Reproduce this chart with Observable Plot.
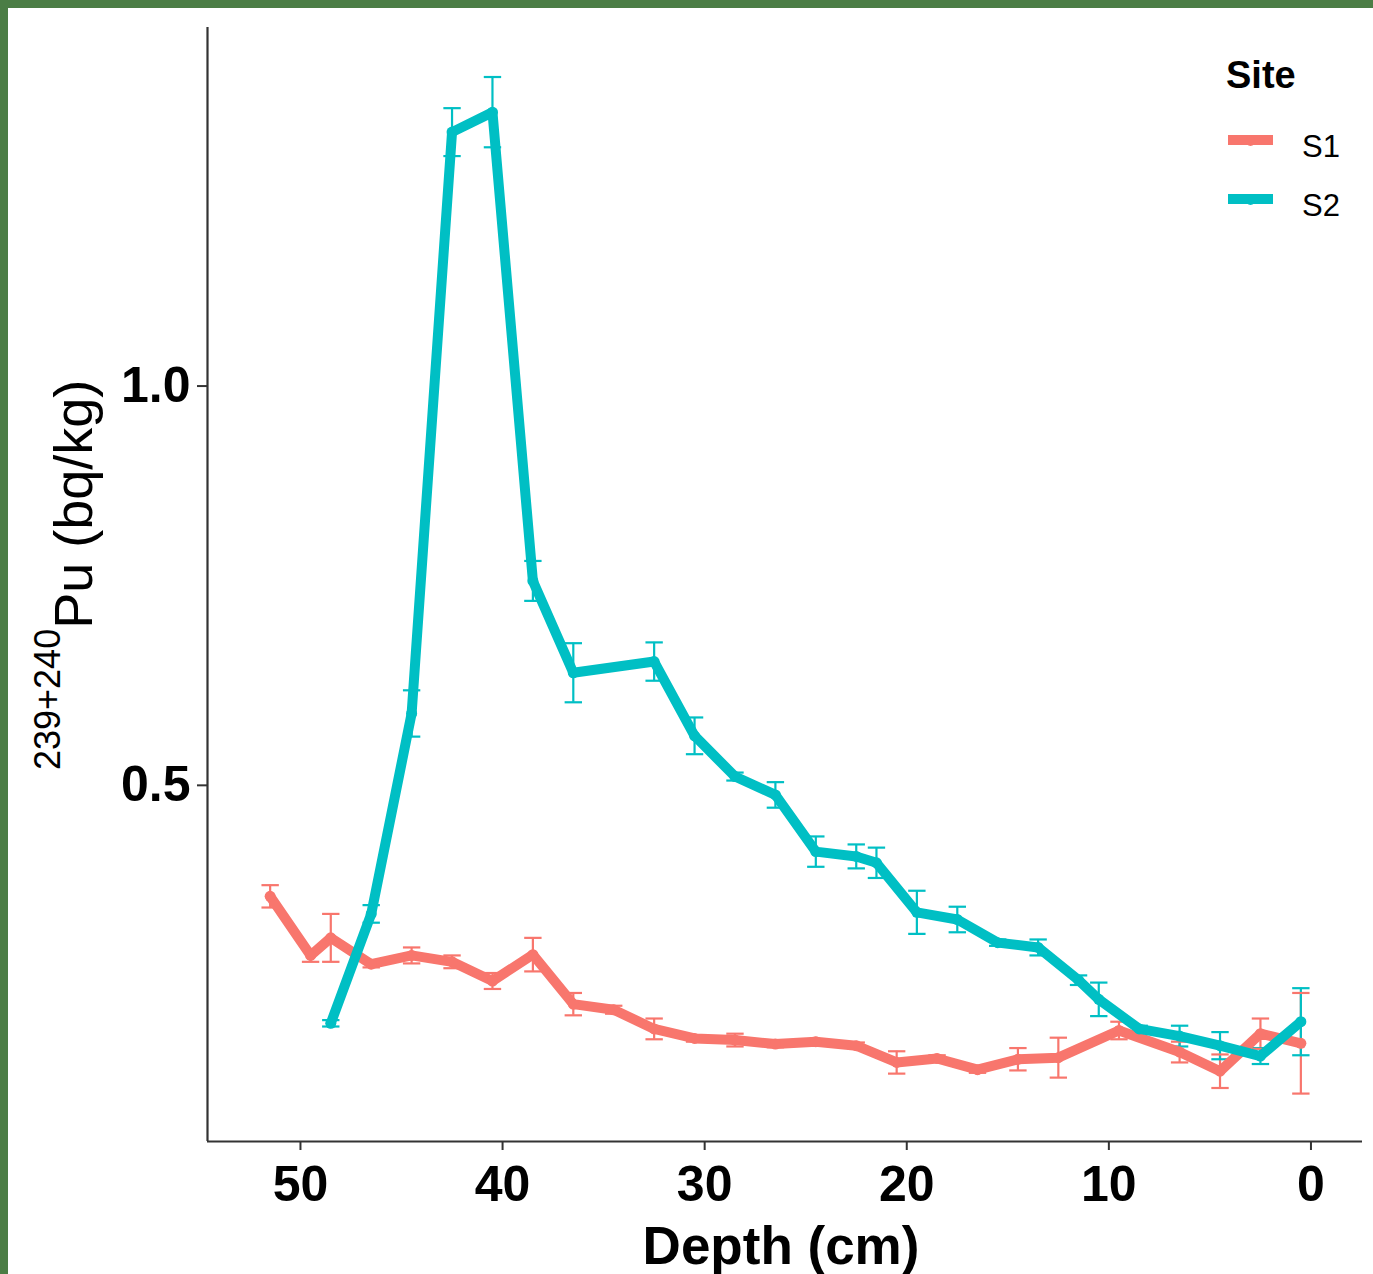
<!DOCTYPE html>
<html>
<head>
<meta charset="utf-8">
<script src="https://cdn.jsdelivr.net/npm/d3@7"></script>
<script src="https://cdn.jsdelivr.net/npm/@observablehq/plot@0.6"></script>
<style>
  html, body { margin: 0; padding: 0; }
  body { width: 1373px; height: 1274px; background: #4b7d45; position: relative; overflow: hidden; }
  #chart { position: absolute; left: 8px; top: 8px; width: 1365px; height: 1266px; background: #fff; }
  #chart svg { display: block; }
  #chart g[aria-label="x-axis tick label"] text,
  #chart g[aria-label="y-axis tick label"] text { font-size: 50px; font-weight: bold; fill: #000; }
</style>
</head>
<body>
<div id="chart"></div>
<script>
// ---- data ----
const sites = ["S1", "S2"];
const siteColors = ["#F8766D", "#00BFC4"];

const depthS1 = [51.5, 49.5, 48.5, 46.5, 44.5, 42.5, 40.5, 38.5, 36.5, 34.5, 32.5, 30.5, 28.5, 26.5, 24.5, 22.5, 20.5, 18.5, 16.5, 14.5, 12.5, 9.5, 6.5, 4.5, 2.5, 0.5];
const valueS1 = [0.361, 0.287, 0.309, 0.276, 0.287, 0.279, 0.255, 0.288, 0.226, 0.219, 0.195, 0.183, 0.181, 0.176, 0.179, 0.174, 0.153, 0.158, 0.144, 0.157, 0.159, 0.193, 0.166, 0.142, 0.189, 0.177];
const errS1   = [0.014, 0.008, 0.030, 0.004, 0.010, 0.008, 0.010, 0.021, 0.014, 0.005, 0.013, 0.004, 0.008, 0.004, 0.003, 0.004, 0.014, 0.004, 0.004, 0.014, 0.025, 0.011, 0.013, 0.021, 0.019, 0.063];

const depthS2 = [48.5, 46.5, 44.5, 42.5, 40.5, 38.5, 36.5, 32.5, 30.5, 28.5, 26.5, 24.5, 22.5, 21.5, 19.5, 17.5, 15.5, 13.5, 11.5, 10.5, 8.5, 6.5, 4.5, 2.5, 0.5];
const valueS2 = [0.202, 0.339, 0.590, 1.318, 1.343, 0.756, 0.641, 0.655, 0.562, 0.511, 0.488, 0.417, 0.411, 0.403, 0.341, 0.332, 0.303, 0.297, 0.256, 0.232, 0.195, 0.186, 0.174, 0.161, 0.204];
const errS2   = [0.004, 0.011, 0.029, 0.030, 0.044, 0.025, 0.037, 0.024, 0.023, 0.005, 0.016, 0.019, 0.015, 0.019, 0.027, 0.016, 0.004, 0.010, 0.006, 0.021, 0.004, 0.013, 0.017, 0.010, 0.042];

const xTicks = [0, 10, 20, 30, 40, 50];
const yTicks = [0.5, 1.0];
const xTitle = "Depth (cm)";
const yTitleSup = "239+240";
const yTitleMain = "Pu (bq/kg)";
const legendTitle = "Site";

// ---- build table ----
const rows = [];
depthS1.forEach((d, i) => rows.push({site: "S1", depth: d, value: valueS1[i], err: errS1[i]}));
depthS2.forEach((d, i) => rows.push({site: "S2", depth: d, value: valueS2[i], err: errS2[i]}));

const xDomain = [54.6, -2.55];
const yDomain = [0.054, 1.449];
const capHalf = 0.43;
const lo = d => d.value - d.err;
const hi = d => d.value + d.err;

const W = 1365, H = 1266;
const plot = Plot.plot({
  width: W, height: H,
  marginLeft: 199, marginRight: 11, marginTop: 19, marginBottom: 133,
  style: {fontFamily: "'Liberation Sans', Arial, sans-serif", background: "white", color: "#000", overflow: "visible"},
  x: {domain: xDomain},
  y: {domain: yDomain},
  color: {domain: sites, range: siteColors},
  marks: [
    Plot.ruleX(rows, {x: "depth", y1: lo, y2: hi, stroke: "site", strokeWidth: 2.2}),
    Plot.link(rows, {x1: d => d.depth - capHalf, x2: d => d.depth + capHalf, y1: hi, y2: hi, stroke: "site", strokeWidth: 2.2}),
    Plot.link(rows, {x1: d => d.depth - capHalf, x2: d => d.depth + capHalf, y1: lo, y2: lo, stroke: "site", strokeWidth: 2.2}),
    Plot.line(rows, {x: "depth", y: "value", z: "site", stroke: "site", strokeWidth: 10, strokeLinejoin: "round"}),
    Plot.dot(rows, {x: "depth", y: "value", fill: "site", r: 5.5}),
    Plot.axisX({ticks: xTicks, tickSize: 9, tickPadding: 15, tickFormat: d => String(d), label: null, stroke: "#333", strokeWidth: 2, fontSize: 50, fontWeight: "bold"}),
    Plot.axisY({ticks: yTicks, tickSize: 10, tickPadding: 7, tickFormat: d3.format(".1f"), label: null, stroke: "#333", strokeWidth: 2, fontSize: 50, fontWeight: "bold"}),
    Plot.ruleX([xDomain[0]], {stroke: "#333", strokeWidth: 2.2}),
    Plot.ruleY([yDomain[0]], {stroke: "#333", strokeWidth: 2.2})
  ]
});
document.getElementById("chart").appendChild(plot);

const svg = d3.select(plot);
const font = "'Liberation Sans', Arial, sans-serif";

// x title
svg.append("text")
  .attr("x", 773).attr("y", 1256)
  .attr("text-anchor", "middle")
  .attr("font-family", font).attr("font-size", 53).attr("font-weight", "bold").attr("fill", "#000")
  .text(xTitle);

// y title with superscript
const yt = svg.append("text")
  .attr("transform", "translate(84,762) rotate(-90)")
  .attr("text-anchor", "start")
  .attr("font-family", font).attr("fill", "#000");
yt.append("tspan").attr("font-size", 36).attr("dy", -32).text(yTitleSup);
yt.append("tspan").attr("font-size", 54).attr("dy", 32).text(yTitleMain);

// legend
svg.append("text")
  .attr("x", 1218).attr("y", 80)
  .attr("text-anchor", "start")
  .attr("font-family", font).attr("font-size", 38).attr("font-weight", "bold").attr("fill", "#000")
  .text(legendTitle);
sites.forEach((s, i) => {
  const yk = 132 + i * 59;
  svg.append("line").attr("x1", 1220).attr("x2", 1265).attr("y1", yk).attr("y2", yk)
    .attr("stroke", siteColors[i]).attr("stroke-width", 10);
  svg.append("circle").attr("cx", 1242.5).attr("cy", yk + 1).attr("r", 5).attr("fill", siteColors[i]);
  svg.append("text").attr("x", 1294).attr("y", yk + 17)
    .attr("text-anchor", "start")
    .attr("font-family", font).attr("font-size", 31).attr("fill", "#000")
    .text(s);
});
</script>
</body>
</html>
